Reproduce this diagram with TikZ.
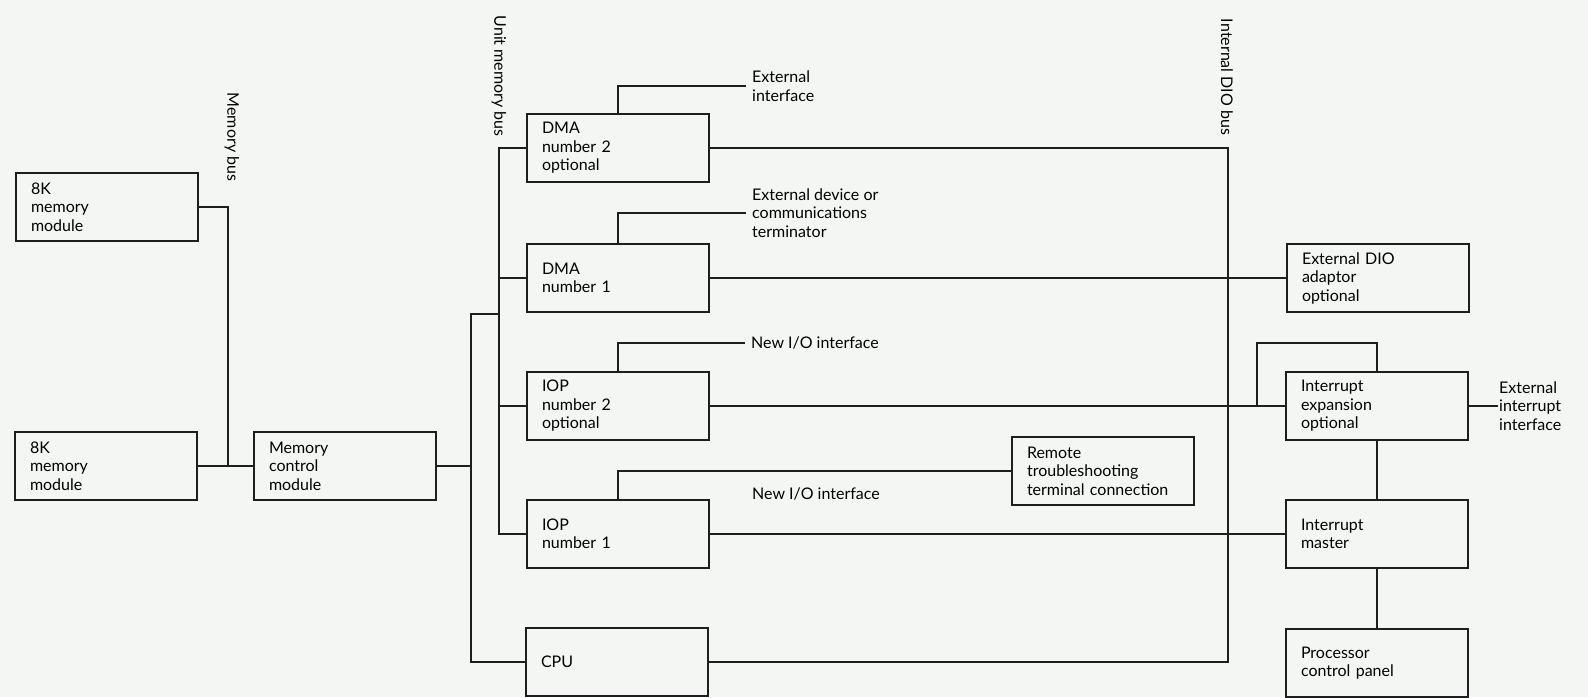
\documentclass[tikz,border=0pt]{standalone}
\usepackage{fontspec}
\setmainfont{Lato}
\usepackage{tikz}
\definecolor{paper}{RGB}{244,246,244}
\definecolor{ink}{RGB}{30,30,30}
\newcommand\unitfont{\fontsize{16}{18.5}\selectfont}

\begin{document}
\begin{tikzpicture}[x=1pt,y=-1pt,
        unit/.style={draw=ink,line width=1.1pt,text width=152pt,minimum height=68pt,
            inner xsep=15pt,inner ysep=0pt,align=left,font=\unitfont},
        note/.style={inner xsep=6pt,inner ysep=0pt,align=left,anchor=west,font=\unitfont},
        busname/.style={inner sep=0pt,rotate=-90,font=\unitfont},
        wire/.style={draw=ink,line width=1.1pt}]
        \fill[paper] (0,0) rectangle (1588,697);
        \useasboundingbox (0,0) rectangle (1588,697);

        \node[unit] (mem1) at (107,207) {8K\\memory\\module};
        \node[unit] (mem2) at (106,466) {8K\\memory\\module};
        \node[unit] (mcm) at (345,466) {Memory\\control\\module};
        \node[unit] (dma2) at (618,148) {DMA\\number 2\\optional};
        \node[unit] (dma1) at (618,278) {DMA\\number 1};
        \node[unit] (iop2) at (618,406) {IOP\\number 2\\optional};
        \node[unit] (iop1) at (618,534) {IOP\\number 1};
        \node[unit] (cpu) at (617,662) {CPU};
        \node[unit] (remote) at (1103,471) {Remote\\troubleshooting\\terminal connection};
        \node[unit] (extdio) at (1378,278) {External DIO\\adaptor\\optional};
        \node[unit] (intexp) at (1377,406) {Interrupt\\expansion\\optional};
        \node[unit] (intmas) at (1377,534) {Interrupt\\master};
        \node[unit] (panel) at (1377,663) {Processor\\control panel};

        \node[busname] (mbusname) at (232,137) {Memory bus};
        \node[busname] (ubusname) at (499,76) {Unit memory bus};
        \node[busname] (diobusname) at (1227,77) {Internal DIO bus};

        \node[note] (extif) at (746,86) {External\\interface};
        \node[note] (extdev) at (746,213) {External device or\\communications\\terminator};
        \node[note] (newio2) at (745,343) {New I/O interface};
        \node[note] (newio1) at (746,494) {New I/O interface};
        \node[note,inner xsep=1pt] (extint) at (1498,406) {External\\interrupt\\interface};

        \coordinate (mbus) at (228,466);
        \coordinate (umb) at (499,534);
        \coordinate (mcb) at (471,314);
        \coordinate (dio) at (1228,662);
        \coordinate (loop) at (1257,343);

        \draw[wire] (mem1.east) -| (mbus);
        \draw[wire] (mem2.east) -- (mcm.west);
        \draw[wire] (mcm.east) -| (mcb) -- (mcb -| umb);
        \draw[wire] (mcb) |- (cpu.west);
        \draw[wire] (dma2.west) -| (umb) -- (iop1.west);
        \foreach \n in {dma1,iop2}
        \draw[wire] (\n.west) -- (\n.west -| umb);
        \draw[wire] (dma2.east) -| (dio) -- (cpu.east);
        \foreach \a/\b in {dma1/extdio,iop2/intexp,iop1/intmas}
        \draw[wire] (\a.east) -- (\b.west);
        \draw[wire] (intexp.north) |- (loop) -- (loop |- intexp.west);
        \draw[wire] (intexp.south) -- (intmas.north);
        \draw[wire] (intmas.south) -- (panel.north);
        \draw[wire] (intexp.east) -- (extint.west);
        \draw[wire] (dma2.north) |- (extif.west);
        \draw[wire] (dma1.north) |- (extdev.west);
        \draw[wire] (iop2.north) |- (newio2.west);
        \draw[wire] (iop1.north) |- (remote.west);
    \end{tikzpicture}
\end{document}
